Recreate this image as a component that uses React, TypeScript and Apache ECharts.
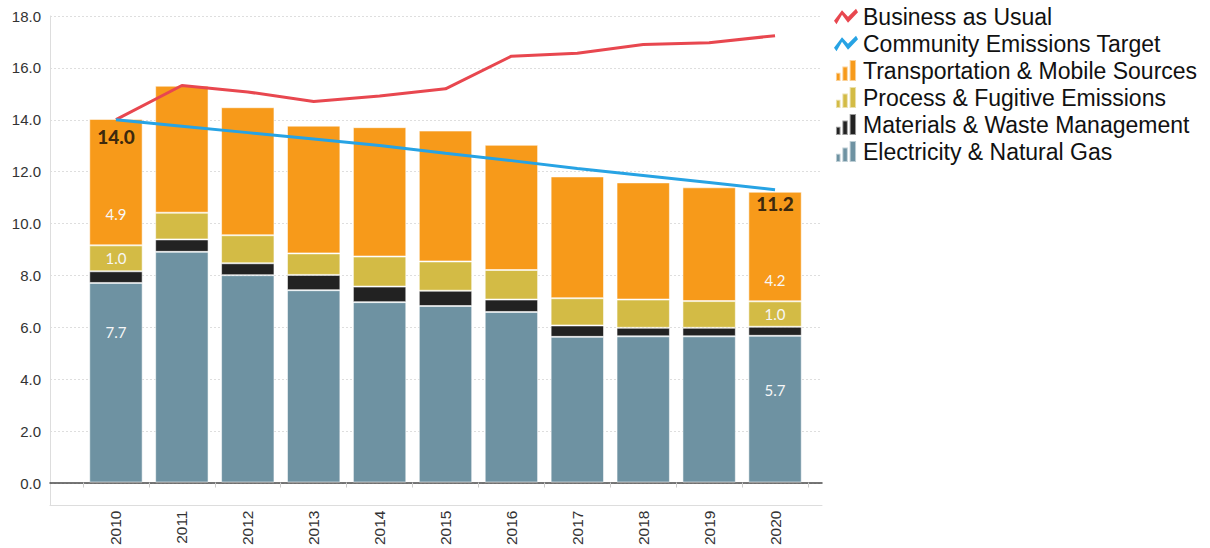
import React, { useEffect, useRef } from "react";
import * as echarts from "echarts";

const years = ["2010", "2011", "2012", "2013", "2014", "2015", "2016", "2017", "2018", "2019", "2020"];
const electricity = [7.7, 8.9, 8.0, 7.42, 6.96, 6.81, 6.58, 5.62, 5.64, 5.64, 5.66];
const materials = [0.45, 0.48, 0.46, 0.59, 0.6, 0.59, 0.48, 0.44, 0.33, 0.33, 0.35];
const processEm = [1.0, 1.03, 1.08, 0.83, 1.16, 1.13, 1.14, 1.05, 1.09, 1.03, 0.98];
const transportation = [4.88, 4.9, 4.94, 4.93, 4.99, 5.05, 4.83, 4.7, 4.52, 4.39, 4.23];
const businessAsUsual = [14.0, 15.32, 15.07, 14.7, 14.91, 15.19, 16.45, 16.56, 16.9, 16.97, 17.24];
const communityTarget = [14.0, 13.75, 13.5, 13.25, 13.0, 12.7, 12.42, 12.12, 11.85, 11.58, 11.3];
const yTicks = [0, 2, 4, 6, 8, 10, 12, 14, 16, 18];
const labeledYears = ["2010", "2020"];

const NAMES = {
  bau: "Business as Usual",
  target: "Community Emissions Target",
  trans: "Transportation & Mobile Sources",
  proc: "Process & Fugitive Emissions",
  mat: "Materials & Waste Management",
  elec: "Electricity & Natural Gas",
};

const COLORS = {
  bau: "#e8474f",
  target: "#27a3e4",
  trans: "#f79a1a",
  proc: "#d3bb45",
  mat: "#222222",
  elec: "#6e92a2",
};

const LINE_ICON = "path://M0,12L8,1.5L14,8L22,0L24,3.5L14,14L8,6L2.5,15.5Z";
const BAR_ICON = "path://M0,14h5v9h-5z M7,7h6v16h-6z M15,0h7v23h-7z";

const totals = years.map(
  (_, i) => electricity[i] + materials[i] + processEm[i] + transportation[i]
);

const whiteLabel = {
  show: true,
  color: "#f7f7f7",
  fontFamily: "Lato",
  fontSize: 15,
  formatter: (p: any) => Number(p.value).toFixed(1),
};

function withLabels(values: number[], per: Record<string, any>) {
  return values.map((v, i) => {
    const y = years[i];
    if (labeledYears.includes(y) && per[y]) {
      return { value: v, label: { ...whiteLabel, ...per[y] } };
    }
    return v;
  });
}

export default function App() {
  const ref = useRef<HTMLDivElement>(null);

  useEffect(() => {
    if (!ref.current) return;
    const chart = echarts.init(ref.current, undefined, { renderer: "svg" });

    const barBase = {
      type: "bar",
      stack: "total",
      xAxisIndex: 1,
      yAxisIndex: 1,
      barCategoryGap: "19%",
      itemStyle: { borderColor: "rgba(255,255,255,0.55)", borderWidth: 1 },
      emphasis: { disabled: true },
    };

    const option: any = {
      animation: false,
      backgroundColor: "#ffffff",
      legend: {
        orient: "vertical",
        left: 834,
        top: 5,
        padding: 0,
        itemWidth: 24,
        itemHeight: 21,
        itemGap: 4,
        textStyle: { fontFamily: "Liberation Sans", fontSize: 23, color: "#111" },
        data: [
          { name: NAMES.bau, icon: LINE_ICON },
          { name: NAMES.target, icon: LINE_ICON },
          { name: NAMES.trans, icon: BAR_ICON },
          { name: NAMES.proc, icon: BAR_ICON },
          { name: NAMES.mat, icon: BAR_ICON },
          { name: NAMES.elec, icon: BAR_ICON },
        ],
      },
      grid: [
        { left: 50, right: 388, top: 16, bottom: 65 },
        { left: 83, right: 402, top: 16, bottom: 65 },
        { left: 50, right: 388, top: 16, bottom: 43 },
      ],
      xAxis: [
        {
          gridIndex: 0,
          type: "value",
          min: 0,
          max: 1,
          axisLine: { show: true, lineStyle: { color: "#4a4a4a", width: 1.5 } },
          axisTick: { show: false },
          axisLabel: { show: false },
          splitLine: { show: false },
        },
        {
          gridIndex: 1,
          type: "category",
          data: years,
          offset: 22,
          boundaryGap: true,
          axisLine: { show: false },
          axisTick: { show: true, length: 5, lineStyle: { color: "#cccccc" } },
          axisLabel: {
            rotate: 90,
            margin: 6,
            fontFamily: "Liberation Sans",
            fontSize: 15.5,
            color: "#333",
          },
          splitLine: { show: false },
        },
        {
          gridIndex: 2,
          type: "value",
          min: 0,
          max: 1,
          axisLine: { show: true, lineStyle: { color: "#dddddd", width: 1 } },
          axisTick: { show: false },
          axisLabel: { show: false },
          splitLine: { show: false },
        },
      ],
      yAxis: [
        {
          gridIndex: 0,
          type: "value",
          min: yTicks[0],
          max: yTicks[yTicks.length - 1],
          interval: yTicks[1] - yTicks[0],
          axisLine: { show: false },
          axisTick: { show: false },
          axisLabel: {
            margin: 9,
            fontFamily: "Liberation Sans",
            fontSize: 15,
            color: "#333",
            formatter: (v: number) => v.toFixed(1),
          },
          splitLine: { show: true, lineStyle: { color: "#dedede", type: [2, 2], width: 1 } },
        },
        {
          gridIndex: 1,
          type: "value",
          min: yTicks[0],
          max: yTicks[yTicks.length - 1],
          show: false,
          splitLine: { show: false },
        },
        {
          gridIndex: 2,
          type: "value",
          min: 0,
          max: 1,
          axisLine: { show: true, lineStyle: { color: "#dddddd", width: 1 } },
          axisTick: { show: false },
          axisLabel: { show: false },
          splitLine: { show: false },
        },
      ],
      series: [
        {
          ...barBase,
          name: NAMES.elec,
          itemStyle: { ...barBase.itemStyle, color: COLORS.elec },
          data: withLabels(electricity, {
            "2010": { position: "insideTop", distance: 42 },
            "2020": { position: "insideTop", distance: 47 },
          }),
        },
        {
          ...barBase,
          name: NAMES.mat,
          itemStyle: { ...barBase.itemStyle, color: COLORS.mat },
          data: materials,
        },
        {
          ...barBase,
          name: NAMES.proc,
          itemStyle: { ...barBase.itemStyle, color: COLORS.proc },
          data: withLabels(processEm, {
            "2010": { position: "inside" },
            "2020": { position: "inside" },
          }),
        },
        {
          ...barBase,
          name: NAMES.trans,
          itemStyle: { ...barBase.itemStyle, color: COLORS.trans },
          data: withLabels(transportation, {
            "2010": { position: "insideBottom", distance: 24 },
            "2020": { position: "insideBottom", distance: 14 },
          }),
        },
        {
          type: "line",
          name: NAMES.bau,
          xAxisIndex: 1,
          yAxisIndex: 1,
          symbol: "none",
          z: 5,
          lineStyle: { color: COLORS.bau, width: 3 },
          itemStyle: { color: COLORS.bau },
          emphasis: { disabled: true },
          data: businessAsUsual.map((v, i) =>
            i === businessAsUsual.length - 1
              ? {
                  value: v,
                  label: {
                    show: true,
                    position: "bottom",
                    distance: 10,
                    offset: [-7, 0],
                    color: "#f21c1c",
                    fontFamily: "Lato",
                    fontWeight: "bold",
                    fontSize: 18,
                    formatter: (p: any) => Number(p.value).toFixed(1),
                  },
                }
              : v
          ),
        },
        {
          type: "line",
          name: NAMES.target,
          xAxisIndex: 1,
          yAxisIndex: 1,
          symbol: "none",
          z: 5,
          lineStyle: { color: COLORS.target, width: 3 },
          itemStyle: { color: COLORS.target },
          emphasis: { disabled: true },
          data: communityTarget.map((v, i) =>
            i === communityTarget.length - 1
              ? {
                  value: v,
                  label: {
                    show: true,
                    position: "top",
                    distance: 10,
                    offset: [-2, 0],
                    color: "#1eaef0",
                    fontFamily: "Lato",
                    fontWeight: "bold",
                    fontSize: 18,
                    formatter: (p: any) => Number(p.value).toFixed(1),
                  },
                }
              : v
          ),
        },
        {
          type: "scatter",
          name: "totals",
          xAxisIndex: 1,
          yAxisIndex: 1,
          symbolSize: 0,
          silent: true,
          z: 6,
          data: totals.map((v, i) => {
            const y = years[i];
            if (!labeledYears.includes(y)) return { value: v, label: { show: false } };
            return {
              value: v,
              label: {
                show: true,
                position: "bottom",
                distance: y === "2010" ? 8 : 2,
                color: "#0a0a0a",
                fontFamily: "Lato",
                fontWeight: 900,
                fontSize: 19,
                formatter: (p: any) => Number(p.value).toFixed(1),
              },
            };
          }),
        },
      ],
    };

    chart.setOption(option);
    return () => chart.dispose();
  }, []);

  return (
    <div
      ref={ref}
      style={{ position: "absolute", left: 0, top: 0, width: 1210, height: 548 }}
    />
  );
}
